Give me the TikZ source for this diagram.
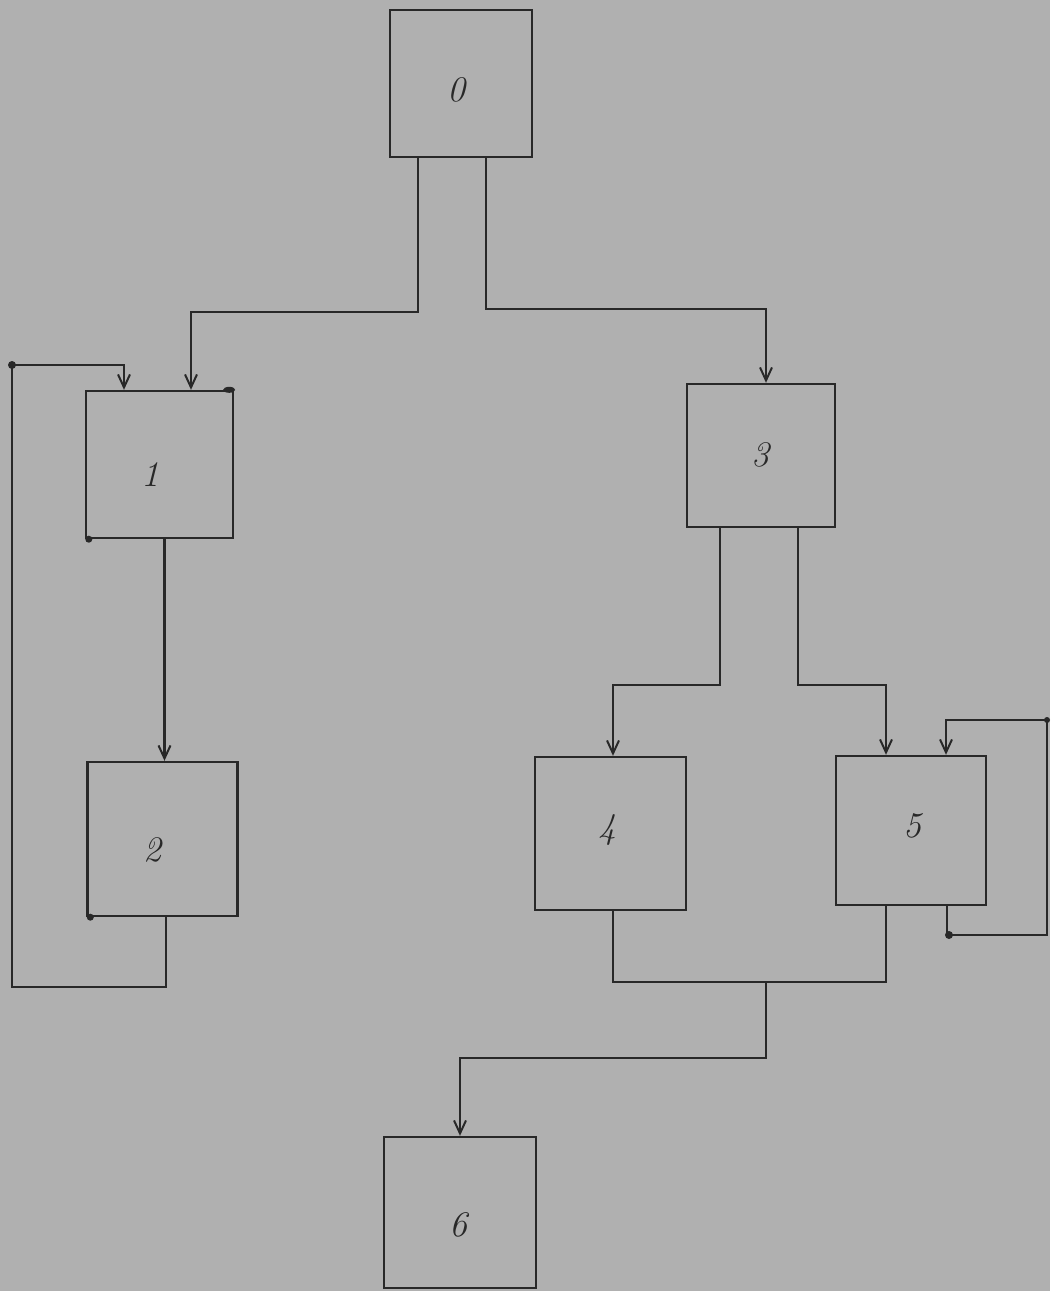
\documentclass[tikz,border=0pt]{standalone}
\usetikzlibrary{arrows.meta}
\definecolor{paper}{RGB}{176,176,176}
\definecolor{ink}{RGB}{40,40,40}
\begin{document}
\begin{tikzpicture}[x=1pt,y=-1pt,
  box/.style={draw=ink,line width=2.4pt,minimum width=#1,inner sep=0pt},
  lab/.style={text=ink,font=\fontsize{36}{40}\selectfont\itshape},
  conn/.style={draw=ink,line width=2.4pt},
  arr/.style={conn,-{Straight Barb[length=13pt,width=12pt,line width=2pt]}},
  pen/.style={fill=ink}]
\fill[paper] (0,0) rectangle (1050,1291);
\useasboundingbox (0,0) rectangle (1050,1291);
% boxes
\node[box=142pt,minimum height=147pt] (b0) at (461,83.5) {};
\node[box=147pt,minimum height=147pt] (b1) at (159.5,464.5) {};
\node[box=150pt,minimum height=154pt] (b2) at (162.5,839) {};
\node[box=148pt,minimum height=143pt] (b3) at (761,455.5) {};
\node[box=151pt,minimum height=153pt] (b4) at (610.5,833.5) {};
\node[box=150pt,minimum height=149pt] (b5) at (911,830.5) {};
\node[box=152pt,minimum height=151pt] (b6) at (460,1212.5) {};
% labels
\node[lab] (t0) at (456,90) {0};
\node[lab] (t1) at (150,475) {1};
\node[lab] (t2) at (152,850) {2};
\node[lab] (t3) at (760,455) {3};
\node[lab] (t4) at (607,830) {4};
\node[lab] (t5) at (912,826) {5};
\node[lab] (t6) at (458,1225) {6};
% routing points
\coordinate (lpa) at (12,987);
\coordinate (lpb) at (12,365);
\coordinate (lpc) at (1047,935);
\coordinate (lpd) at (1047,720);
\coordinate (j) at (766,982);
% connectors
\draw[arr] ([xshift=-43pt]b0.south) -- ++(0,154) -| ([xshift=31.5pt]b1.north);
\draw[arr] ([xshift=25pt]b0.south) -- ++(0,151) -| ([xshift=5pt]b3.north);
\draw[arr] ([xshift=5pt]b1.south) -- ([xshift=2pt]b2.north);
\draw[arr] ([xshift=3.5pt]b2.south) |- (lpa) -- (lpb) -| ([xshift=-35.5pt]b1.north);
\draw[arr] ([xshift=-41pt]b3.south) -- ++(0,157) -| ([xshift=2.5pt]b4.north);
\draw[arr] ([xshift=37pt]b3.south) -- ++(0,157) -| ([xshift=-25pt]b5.north);
\draw[arr] ([xshift=36pt]b5.south) |- (lpc) -- (lpd) -| ([xshift=35pt]b5.north);
\draw[conn] ([xshift=2.5pt]b4.south) |- (j) -| ([xshift=-25pt]b5.south);
\draw[arr] (j) -- ++(0,76) -| (b6.north);
% pen marks
\fill[pen] (lpb) circle (4pt);
\fill[pen] (b1.north east) ++(-5,0) ellipse (6pt and 3pt);
\fill[pen] (b1.south west) ++(4,0) circle (3.5pt);
\fill[pen] (b2.south west) ++(4,0) circle (3.5pt);
\fill[pen] (lpc) ++(-98,0) circle (4pt);
\fill[pen] (lpd) circle (3pt);
\end{tikzpicture}
\end{document}
